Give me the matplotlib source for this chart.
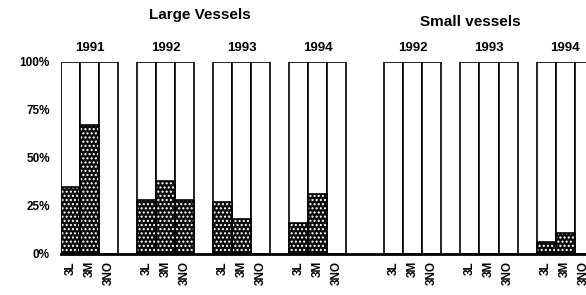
import matplotlib
matplotlib.use("Agg")
import matplotlib.pyplot as plt
import numpy as np

plt.rcParams['font.family'] = ['Liberation Sans', 'DejaVu Sans']
plt.rcParams['hatch.linewidth'] = 1.0

# Data
groups = ["1991", "1992", "1993", "1994", "1992", "1993", "1994"]
panels = ["Large Vessels", "Small vessels"]
categories = ["3L", "3M", "3NO"]
values = [
    [35, 67, 0],
    [28, 38, 28],
    [27, 18, 0],
    [16, 31, 0],
    [0, 0, 0],
    [0, 0, 0],
    [6, 11, 0],
]
ytick_vals = [0, 25, 50, 75, 100]
ytick_labels = ["0%", "25%", "50%", "75%", "100%"]

group_starts = [0, 4, 8, 12, 17, 21, 25]

fig = plt.figure(figsize=(5.86, 2.95), dpi=100)
ax = fig.add_axes([61/586, 1 - 254/295, 1 - 61/586, (254 - 62)/295])

xs, labels = [], []
for g, start in enumerate(group_starts):
    for i, cat in enumerate(categories):
        x = start + i + 0.5
        xs.append(x)
        labels.append(cat)
        ax.bar(x, 100, width=1.0, facecolor='white', edgecolor='black', linewidth=1.2, zorder=2)
        v = values[g][i]
        if v > 0:
            ax.bar(x, v, width=1.0, facecolor='#0a0a0a', edgecolor='white', hatch='....',
                   linewidth=0, zorder=3)
            ax.bar(x, v, width=1.0, facecolor='none', edgecolor='black',
                   linewidth=1.2, zorder=4)
    ax.text(start + 1.5, 104, groups[g], ha='center', va='bottom', fontsize=9.5,
            fontweight='bold', clip_on=False)

ax.set_xlim(0, 27.6)
ax.set_ylim(0, 100)
ax.set_xticks(xs)
ax.set_xticklabels(labels, rotation=90, fontsize=8.5, fontweight='bold')
ax.set_yticks(ytick_vals)
ax.set_yticklabels(ytick_labels, fontsize=8.5, fontweight='bold')
ax.tick_params(length=0)
ax.tick_params(axis='y', pad=8)
ax.tick_params(axis='x', pad=5)
for s in ['top', 'right', 'left']:
    ax.spines[s].set_visible(False)
ax.spines['bottom'].set_linewidth(2)
ax.spines['bottom'].set_zorder(5)

fig.text(200/586, 1 - 15/295, panels[0], ha='center', va='center', fontsize=11, fontweight='bold')
fig.text(470/586, 1 - 22/295, panels[1], ha='center', va='center', fontsize=11, fontweight='bold')

fig.savefig("out.png", dpi=100)
